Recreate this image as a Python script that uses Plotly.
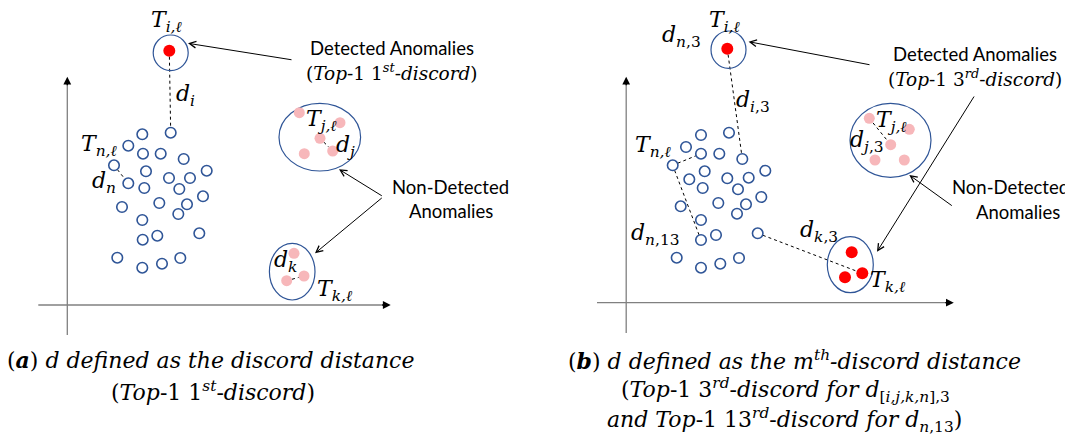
import math
import plotly.graph_objects as go

# ---------------- data (pixel-space diagram coordinates) ----------------
left_cluster_x = [142.3, 170.7, 128.3, 143, 160.7, 183.7, 114, 146, 206.7, 169, 190, 128.3, 144.3, 179.3,
                  203, 122, 159.3, 187, 178.3, 142.3, 157.3, 142.7, 199.3, 117.3, 142.3, 162, 180.3]
left_cluster_y = [134.3, 132.7, 145.7, 153.7, 153.7, 159, 165.3, 171.3, 170.7, 178, 178, 183.3, 188, 189,
                  196.3, 207, 203, 204.3, 214, 220, 235.7, 239.7, 233.3, 257.7, 267.7, 263.7, 258]
right_cluster_x = [701, 729, 686, 701, 719.3, 742.3, 672.7, 704.7, 765.3, 689.3, 727.3, 748.7, 702.7, 738,
                   761.3, 680.7, 718.3, 746, 737, 701, 716, 701, 757.7, 676.7, 701, 720.3, 739]
right_cluster_y = [135, 132.7, 147, 153.7, 153.7, 159, 165.3, 171.3, 170.7, 179.3, 178.3, 177.7, 188, 189.3,
                   197, 206.3, 203, 204.3, 213.7, 220, 235, 240, 233.3, 257.7, 267.7, 263.7, 258]

red_x = [169.3, 727.3, 851.7, 862.3, 845]
red_y = [50.7, 48.7, 252.3, 273.3, 277.3]

pink_x = [299.3, 340, 320, 332.7, 304.3, 294, 304, 286.7, 869.3, 909.3, 890.7, 875, 904.3]
pink_y = [112.7, 122.7, 138.3, 151, 153.7, 253.3, 276, 280.7, 118.3, 129.3, 144.7, 160, 160]

# ellipses: centre x, centre y, radius x, radius y
ell_cx = [170.7, 319.8, 292.2, 728.5, 890.5, 850.3]
ell_cy = [52.8, 137.2, 271.7, 49.7, 140.3, 264.7]
ell_rx = [17.5, 40.8, 22.8, 17.5, 40.5, 23]
ell_ry = [17.8, 33.8, 28.3, 18.7, 37, 28]

# dashed distance lines: (x0, y0, x1, y1, trim at start, trim at end)
dash_x0 = [169.3, 114, 320, 286.7, 727.3, 672.7, 672.7, 757.7, 869.3]
dash_y0 = [50.7, 165.3, 138.3, 280.7, 48.7, 165.3, 165.3, 233.3, 118.3]
dash_x1 = [170.7, 128.3, 332.7, 304, 742.3, 701, 701, 862.3, 890.7]
dash_y1 = [132.7, 183.3, 151, 276, 159, 153.7, 240, 273.3, 144.7]
dash_trim0 = [0, 5.5, 5.5, 5.5, 0, 5.5, 5.5, 5.5, 0]
dash_trim1 = [5.5, 5.5, 5.5, 5.5, 5.5, 5.5, 5.5, 0, 0]

# pointer arrows: tail -> head
arr_tx = [293, 383.3, 383.3, 871, 975, 953.3]
arr_ty = [60, 196.7, 196.7, 65, 95, 206.7]
arr_hx = [188, 339, 315, 748.6, 877, 909.3]
arr_hy = [43.3, 169.3, 253.3, 41.7, 251.7, 175]

# coordinate axes of the two panels
axis_origin_x = [67.3, 626.2]
axis_h_y = [305, 302.7]
axis_h_x0 = [38.3, 597]
axis_h_x1 = [390.7, 953.8]
axis_v_top = [76.7, 76.7]
axis_v_bottom = [335, 333]

# math labels
lab_text = ["<i>T</i><sub><i>i,ℓ</i></sub>", "<i>d</i><sub><i>i</i></sub>", "<i>T</i><sub><i>n,ℓ</i></sub>",
            "<i>d</i><sub><i>n</i></sub>", "<i>T</i><sub><i>j,ℓ</i></sub>", "<i>d</i><sub><i>j</i></sub>",
            "<i>d</i><sub><i>k</i></sub>", "<i>T</i><sub><i>k,ℓ</i></sub>",
            "<i>T</i><sub><i>i,ℓ</i></sub>", "<i>d</i><sub><i>n</i>,3</sub>", "<i>d</i><sub><i>i</i>,3</sub>",
            "<i>T</i><sub><i>n,ℓ</i></sub>", "<i>d</i><sub><i>n</i>,13</sub>", "<i>d</i><sub><i>k</i>,3</sub>",
            "<i>T</i><sub><i>k,ℓ</i></sub>", "<i>T</i><sub><i>j,ℓ</i></sub>", "<i>d</i><sub><i>j</i>,3</sub>"]
lab_x = [166.7, 185, 99.3, 104, 321.7, 345, 285, 335,
         725, 681.7, 753.3, 653.3, 655, 819.3, 888.3, 891.7, 866.7]
lab_y = [21.5, 95, 145, 182.7, 120, 146.7, 261.7, 290,
         21.5, 36.7, 101.7, 146.7, 234, 231.7, 281.7, 121.7, 141.7]

# plain text blocks
note_text = ["Detected Anomalies", "(<i>Top</i>-1 1<sup><i>st</i></sup>-<i>discord</i>)",
             "Non-Detected", "Anomalies",
             "Detected Anomalies", "(<i>Top</i>-1 3<sup><i>rd</i></sup>-<i>discord</i>)",
             "Non-Detected", "Anomalies"]
note_x = [392, 392, 450, 450.5, 975, 975, 1071, 1018]
note_y = [48.3, 71.7, 187.3, 210.7, 54, 78.3, 187.3, 211.7]
note_anchor = ["center", "center", "center", "center", "center", "center", "right", "center"]
note_serif = [False, True, False, False, False, True, False, False]

caption_text = ["(<b><i>a</i></b>) <i>d defined as the discord distance</i>",
                "(<i>Top</i>-1 1<sup><i>st</i></sup>-<i>discord</i>)",
                "(<b><i>b</i></b>) <i>d defined as the m</i><sup><i>th</i></sup><i>-discord distance</i>",
                "(<i>Top</i>-1 3<sup><i>rd</i></sup>-<i>discord for d</i><sub>[<i>i,j,k,n</i>],3</sub>",
                "<i>and Top</i>-1 13<sup><i>rd</i></sup>-<i>discord for d</i><sub><i>n</i>,13</sub>)"]
caption_x = [210, 212.7, 794, 785.5, 784.5]
caption_y = [360, 391, 359.5, 389.5, 420]

# ---------------- styles ----------------
BLUE = "#2F5597"
RED = "#FF0000"
PINK = "#F7B7BA"
AXIS_GRAY = "#808080"
SERIF = "DejaVu Serif"
SANS = "Lato"
PAGE_MARGIN = 8  # default body margin of the written html page

fig = go.Figure()

shapes = []
for x0, y0, x1, y1, t0, t1 in zip(dash_x0, dash_y0, dash_x1, dash_y1, dash_trim0, dash_trim1):
    L = math.hypot(x1 - x0, y1 - y0)
    ux, uy = (x1 - x0) / L, (y1 - y0) / L
    shapes.append(dict(type="line", xref="x", yref="y",
                       x0=x0 + ux * t0, y0=y0 + uy * t0, x1=x1 - ux * t1, y1=y1 - uy * t1,
                       line=dict(color="black", width=1, dash="dot"), layer="below"))
for cx, cy, rx, ry in zip(ell_cx, ell_cy, ell_rx, ell_ry):
    shapes.append(dict(type="circle", xref="x", yref="y", x0=cx - rx, x1=cx + rx, y0=cy - ry, y1=cy + ry,
                       line=dict(color=BLUE, width=1.2), layer="below"))
for ox, hy, hx0, hx1, vt, vb in zip(axis_origin_x, axis_h_y, axis_h_x0, axis_h_x1, axis_v_top, axis_v_bottom):
    shapes.append(dict(type="line", xref="x", yref="y", x0=hx0, x1=hx1 - 6, y0=hy, y1=hy,
                       line=dict(color=AXIS_GRAY, width=1.3), layer="below"))
    shapes.append(dict(type="line", xref="x", yref="y", x0=ox, x1=ox, y0=vb, y1=vt + 6,
                       line=dict(color=AXIS_GRAY, width=1.3), layer="below"))

fig.add_trace(go.Scatter(x=left_cluster_x + right_cluster_x, y=left_cluster_y + right_cluster_y,
                         mode="markers", hoverinfo="skip",
                         marker=dict(symbol="circle-open", size=10.5, color=BLUE, line=dict(width=1.6))))
fig.add_trace(go.Scatter(x=pink_x, y=pink_y, mode="markers", hoverinfo="skip",
                         marker=dict(symbol="circle", size=11, color=PINK, line=dict(width=0))))
fig.add_trace(go.Scatter(x=red_x, y=red_y, mode="markers", hoverinfo="skip",
                         marker=dict(symbol="circle", size=12, color=RED, line=dict(width=0))))

annotations = []
for tx, ty, hx, hy in zip(arr_tx, arr_ty, arr_hx, arr_hy):
    annotations.append(dict(x=hx, y=hy, ax=tx, ay=ty, xref="x", yref="y", axref="x", ayref="y",
                            text="", showarrow=True, arrowhead=5, arrowsize=1.3, arrowwidth=1,
                            arrowcolor="black", standoff=0))
for ox, hy, hx1, vt in zip(axis_origin_x, axis_h_y, axis_h_x1, axis_v_top):
    annotations.append(dict(x=hx1, y=hy, ax=hx1 - 10, ay=hy, xref="x", yref="y", axref="x", ayref="y",
                            text="", showarrow=True, arrowhead=2, arrowsize=1.2, arrowwidth=1.3,
                            arrowcolor="black", standoff=0))
    annotations.append(dict(x=ox, y=vt, ax=ox, ay=vt + 10, xref="x", yref="y", axref="x", ayref="y",
                            text="", showarrow=True, arrowhead=2, arrowsize=1.2, arrowwidth=1.3,
                            arrowcolor="black", standoff=0))
for t, x, y in zip(lab_text, lab_x, lab_y):
    annotations.append(dict(x=x, y=y, xref="x", yref="y", text=t, showarrow=False,
                            xanchor="center", yanchor="middle",
                            font=dict(family=SERIF, size=22, color="black")))
for t, x, y, a, s in zip(note_text, note_x, note_y, note_anchor, note_serif):
    annotations.append(dict(x=x, y=y, xref="x", yref="y", text=t, showarrow=False,
                            xanchor=a, yanchor="middle",
                            font=dict(family=SERIF if s else SANS, size=18.5, color="black")))
for t, x, y in zip(caption_text, caption_x, caption_y):
    annotations.append(dict(x=x, y=y, xref="x", yref="y", text=t, showarrow=False,
                            xanchor="center", yanchor="middle",
                            font=dict(family=SERIF, size=22, color="black")))

W, H = 1073, 444
fig.update_layout(
    width=W - PAGE_MARGIN, height=H - PAGE_MARGIN, margin=dict(l=0, r=0, t=0, b=0),
    paper_bgcolor="white", plot_bgcolor="white", showlegend=False,
    xaxis=dict(range=[PAGE_MARGIN, W], visible=False, fixedrange=True),
    yaxis=dict(range=[H, PAGE_MARGIN], visible=False, fixedrange=True),
    shapes=shapes, annotations=annotations,
)

fig.write_html("out.html")
